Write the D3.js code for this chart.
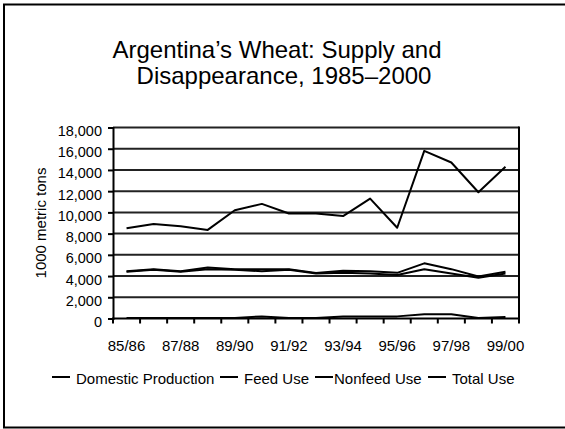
<!DOCTYPE html>
<html>
<head>
<meta charset="utf-8">
<script src="https://cdn.jsdelivr.net/npm/d3@7"></script>
<style>
  body { margin: 0; background: #fff; }
  text { font-family: "Liberation Sans", Arial, sans-serif; fill: #000; }
</style>
</head>
<body>
<div id="chart"></div>
<script>
// marketing years 85/86 .. 99/00
const years = ["85/86", "86/87", "87/88", "88/89", "89/90", "90/91", "91/92", "92/93",
               "93/94", "94/95", "95/96", "96/97", "97/98", "98/99", "99/00"];
const labelYears = ["85/86", "87/88", "89/90", "91/92", "93/94", "95/96", "97/98", "99/00"];

// 1000 metric tons
const production = [8500, 8900, 8700, 8350, 10200, 10800, 9900, 9900, 9650, 11300, 8550, 15800, 14700, 11900, 14300];
const feedUse    = [50, 50, 50, 50, 50, 200, 50, 50, 200, 200, 200, 400, 400, 50, 150];
const nonfeedUse = [4400, 4600, 4400, 4650, 4600, 4450, 4600, 4250, 4300, 4250, 4100, 4650, 4250, 3850, 4250];
const totalUse   = [4450, 4650, 4450, 4800, 4650, 4650, 4650, 4300, 4500, 4450, 4300, 5200, 4650, 3950, 4400];

const yTicks = [0, 2000, 4000, 6000, 8000, 10000, 12000, 14000, 16000, 18000];

const series = [
  { name: "Domestic Production", values: production },
  { name: "Feed Use", values: feedUse },
  { name: "Nonfeed Use", values: nonfeedUse },
  { name: "Total Use", values: totalUse }
];

const width = 565, height = 429;
const plot = { left: 113, right: 519, top: 127.5, bottom: 318.5 };

const svg = d3.select("#chart")
  .append("svg")
  .attr("width", width)
  .attr("height", height);

// outer frame (right edge runs off the picture)
svg.append("rect")
  .attr("x", 4).attr("y", 4.5)
  .attr("width", 580).attr("height", 423)
  .attr("fill", "none")
  .attr("stroke", "#000")
  .attr("stroke-width", 2);

// title
const title = svg.append("text")
  .attr("font-size", "24px")
  .attr("text-anchor", "middle");
title.append("tspan").attr("x", 277).attr("y", 58).text("Argentina\u2019s Wheat: Supply and");
title.append("tspan").attr("x", 284).attr("y", 84).text("Disappearance, 1985\u20132000");

const x = d3.scaleBand()
  .domain(years)
  .range([plot.left, plot.right]);

const y = d3.scaleLinear()
  .domain([0, 18000])
  .range([plot.bottom, plot.top]);

// gridlines
svg.append("g")
  .selectAll("line")
  .data(yTicks.filter(d => d > 0))
  .enter().append("line")
  .attr("x1", plot.left).attr("x2", plot.right)
  .attr("y1", d => y(d)).attr("y2", d => y(d))
  .attr("stroke", "#222")
  .attr("stroke-width", 2);

// right border of the plot
svg.append("line")
  .attr("x1", plot.right).attr("x2", plot.right)
  .attr("y1", plot.top - 1).attr("y2", plot.bottom)
  .attr("stroke", "#000")
  .attr("stroke-width", 2);

// y axis
const yAxis = svg.append("g")
  .attr("transform", `translate(${plot.left},0)`)
  .call(d3.axisLeft(y).tickValues(yTicks).tickSize(5).tickPadding(6).tickFormat(d3.format(",")));
yAxis.select(".domain").attr("stroke", "#000").attr("stroke-width", 2);
yAxis.selectAll(".tick line").attr("stroke", "#000").attr("stroke-width", 2);
yAxis.selectAll(".tick text")
  .attr("font-size", "14.5px")
  .attr("font-family", "Liberation Sans, Arial, sans-serif")
  .attr("dy", "0.55em");

// x axis: ticks on category boundaries
const boundaries = years.map(d => x(d)).concat([plot.right]);
svg.append("line")
  .attr("x1", plot.left - 1).attr("x2", plot.right + 1)
  .attr("y1", plot.bottom).attr("y2", plot.bottom)
  .attr("stroke", "#000")
  .attr("stroke-width", 2);
svg.append("g")
  .selectAll("line")
  .data(boundaries)
  .enter().append("line")
  .attr("x1", d => d).attr("x2", d => d)
  .attr("y1", plot.bottom).attr("y2", plot.bottom + 5)
  .attr("stroke", "#000")
  .attr("stroke-width", 2);

svg.append("g")
  .selectAll("text")
  .data(labelYears)
  .enter().append("text")
  .attr("x", d => x(d) + x.bandwidth() / 2)
  .attr("y", 350.5)
  .attr("text-anchor", "middle")
  .attr("font-size", "15px")
  .text(d => d);

// y axis title
svg.append("text")
  .attr("transform", `translate(46,${(plot.top + plot.bottom) / 2}) rotate(-90)`)
  .attr("text-anchor", "middle")
  .attr("font-size", "15px")
  .text("1000 metric tons");

// lines
const line = d3.line()
  .x((d, i) => x(years[i]) + x.bandwidth() / 2)
  .y(d => y(d));

svg.append("g")
  .selectAll("path")
  .data(series)
  .enter().append("path")
  .attr("d", d => line(d.values))
  .attr("fill", "none")
  .attr("stroke", "#000")
  .attr("stroke-width", 2)
  .attr("stroke-linejoin", "round");

// legend
const legendX = [52, 220, 315, 428];
const legend = svg.append("g")
  .selectAll("g")
  .data(series)
  .enter().append("g")
  .attr("transform", (d, i) => `translate(${legendX[i]},377)`);
legend.append("line")
  .attr("x1", 0).attr("x2", 18)
  .attr("y1", 0).attr("y2", 0)
  .attr("stroke", "#000")
  .attr("stroke-width", 2);
legend.append("text")
  .attr("x", (d, i) => i === 2 ? 19 : 24)
  .attr("y", 6.5)
  .attr("font-size", "15px")
  .text(d => d.name);
</script>
</body>
</html>
